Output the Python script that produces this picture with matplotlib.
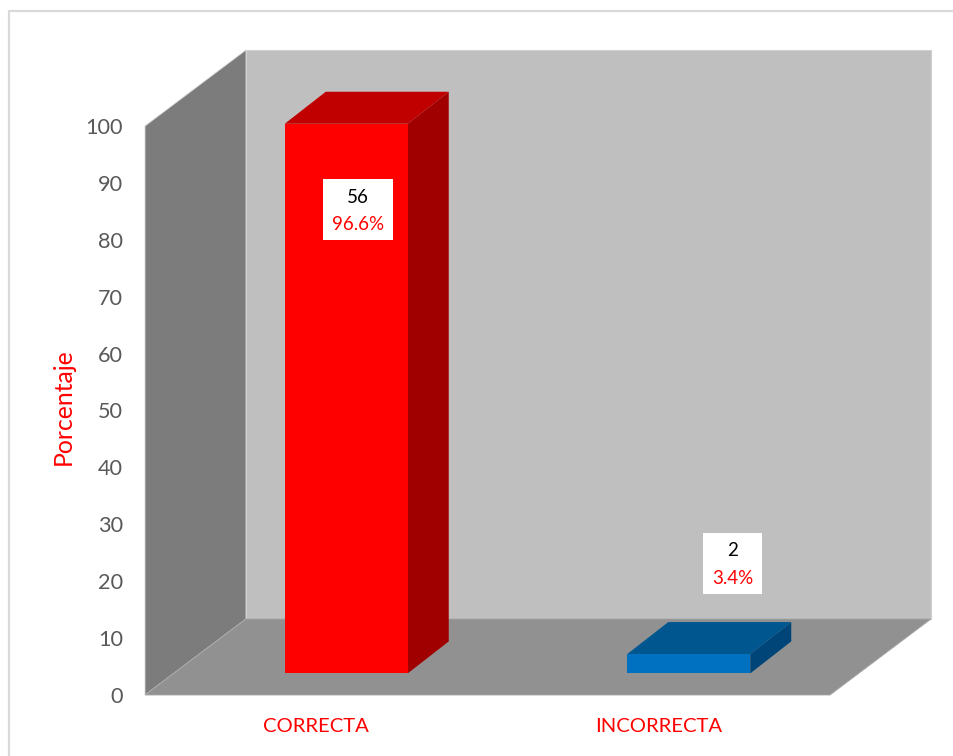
import matplotlib
matplotlib.use('Agg')
from matplotlib import pyplot as plt
from matplotlib.patches import Polygon, Rectangle

plt.rcParams['font.family'] = ['Lato', 'DejaVu Sans']

categories = ['CORRECTA', 'INCORRECTA']
counts = [56, 2]
percents = [96.6, 3.4]
pct_labels = ['96.6%', '3.4%']
y_ticks = [0, 10, 20, 30, 40, 50, 60, 70, 80, 90, 100]
y_label = 'Porcentaje'

front_colors = ['#ff0000', '#0070c0']
top_colors = ['#c00000', '#00578f']
side_colors = ['#a00000', '#004578']

W, H = 954, 756
# pixels per data unit, and where the origin of the chart sits
X_UNIT = 342.5
Y_UNIT = 5.69
X0, Y0 = 145, 695


def px(x):
    return (x - X0) / X_UNIT


def py(y):
    return (Y0 - y) / Y_UNIT


fig = plt.figure(figsize=(W / 100, H / 100), dpi=100)
ax = fig.add_axes([0, 0, 1, 1])
ax.set_xlim(px(0), px(W))
ax.set_ylim(py(H), py(0))
ax.axis('off')

# chart box depth
depth_x = 101 / X_UNIT
depth_y = 76 / Y_UNIT
top = y_ticks[-1]
right = len(categories)

# outer frame
ax.plot([px(8.5), px(8.5), px(W)], [py(H), py(11), py(11)], color='#d9d9d9', lw=1.6, zorder=1)

# walls and floor
ax.add_patch(Rectangle((depth_x, depth_y), right, top, fc='#bfbfbf', ec='#d0d0d0', lw=0.8, zorder=2))
ax.add_patch(Polygon([(0, 0), (depth_x, depth_y), (depth_x, depth_y + top), (0, top)],
                     fc='#7c7c7c', ec='#d9d9d9', lw=0.6, zorder=3))
ax.add_patch(Polygon([(0, 0), (right, 0), (right + depth_x, depth_y), (depth_x, depth_y)],
                     fc='#919191', ec='#a6a6a6', lw=0.6, zorder=4))

# bars
bar_w = 123 / X_UNIT
bar_dx = 41 / X_UNIT
bar_dy = 32 / Y_UNIT
base_y = 21.6 / Y_UNIT
shift_x = 30 / X_UNIT
for i, val in enumerate(percents):
    left = i + 0.5 + shift_x - bar_w / 2
    r = left + bar_w
    t = base_y + val
    ax.add_patch(Polygon([(r, base_y), (r + bar_dx, base_y + bar_dy), (r + bar_dx, t + bar_dy), (r, t)],
                         fc=side_colors[i], ec='none', zorder=5))
    ax.add_patch(Polygon([(left, t), (r, t), (r + bar_dx, t + bar_dy), (left + bar_dx, t + bar_dy)],
                         fc=top_colors[i], ec='none', zorder=5))
    ax.add_patch(Rectangle((left, base_y), bar_w, val, fc=front_colors[i], ec='none', zorder=6))

# data labels
label_boxes = [(323, 179, 70, 61), (703, 533, 59, 61)]
for i, (bx, by, bw, bh) in enumerate(label_boxes):
    ax.add_patch(Rectangle((px(bx), py(by + bh)), bw / X_UNIT, bh / Y_UNIT, fc='white', ec='none', zorder=7))
    cx = px(bx + bw / 2)
    ax.text(cx, py(by + 18), str(counts[i]), color='black', fontsize=13.5, ha='center', va='center', zorder=8)
    ax.text(cx, py(by + 45), pct_labels[i], color='#ff0000', fontsize=13.5, ha='center', va='center', zorder=8)

# y tick labels, nudged down 2px to sit where the reference has them
for tick in y_ticks:
    ax.text(px(123), tick - 2 / Y_UNIT, str(tick), color='#595959', fontsize=15.6, ha='right', va='center')

# category labels
for i, name in enumerate(categories):
    ax.text(i + 0.5, py(726), name, color='#ff0000', fontsize=14.6, ha='center', va='center')

ax.text(px(63), py(407), y_label, color='#ff0000', fontsize=17.8, rotation=90, ha='center', va='center')

fig.savefig('out.png', dpi=100)
